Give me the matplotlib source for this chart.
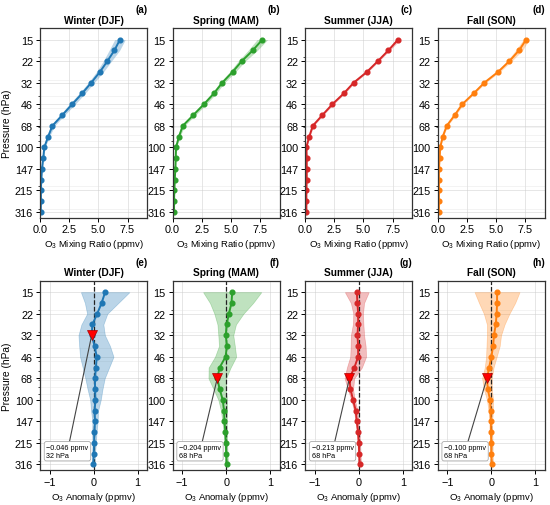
import numpy as np
import matplotlib
matplotlib.use('Agg')
import matplotlib.pyplot as plt
from matplotlib.ticker import NullFormatter

plt.rcParams['font.family'] = ['Liberation Sans', 'DejaVu Sans']
plt.rcParams['mathtext.default'] = 'regular'

# pressure levels (hPa), top to bottom
levels = [14.68, 17.78, 21.54, 26.10, 31.62, 38.31, 46.42, 56.23, 68.13,
          82.54, 100.0, 121.15, 146.78, 177.83, 215.44, 261.02, 316.23]
tick_vals = [14.68, 21.54, 31.62, 46.42, 68.13, 100.0, 146.78, 215.44, 316.23]
tick_labels = ['15', '22', '32', '46', '68', '100', '147', '215', '316']

seasons = ['Winter (DJF)', 'Spring (MAM)', 'Summer (JJA)', 'Fall (SON)']
colors = ['#1f77b4', '#2ca02c', '#d62728', '#ff7f0e']

# O3 mixing ratio (ppmv) and spread
djf = [6.85, 6.37, 5.77, 5.13, 4.39, 3.61, 2.76, 1.92, 1.07, 0.70, 0.37, 0.28, 0.17, 0.11, 0.08, 0.08, 0.06]
mam = [7.69, 6.87, 5.93, 5.14, 4.26, 3.54, 2.69, 1.79, 0.88, 0.55, 0.30, 0.27, 0.24, 0.19, 0.15, 0.13, 0.13]
jja = [7.96, 7.13, 6.23, 5.29, 4.16, 3.31, 2.34, 1.49, 0.66, 0.36, 0.11, 0.14, 0.14, 0.14, 0.11, 0.11, 0.11]
son = [7.58, 6.97, 6.14, 5.17, 4.00, 3.08, 2.11, 1.47, 0.78, 0.44, 0.22, 0.17, 0.11, 0.11, 0.11, 0.11, 0.11]
djf_sd = [0.45, 0.45, 0.35, 0.3, 0.25, 0.25, 0.25, 0.2, 0.18, 0.12, 0.06, 0.05, 0.04, 0.03, 0.03, 0.03, 0.03]
mam_sd = [0.45, 0.4, 0.3, 0.25, 0.2, 0.2, 0.2, 0.18, 0.15, 0.1, 0.05, 0.04, 0.04, 0.03, 0.03, 0.03, 0.03]
jja_sd = [0.2, 0.12, 0.1, 0.1, 0.1, 0.1, 0.1, 0.08, 0.08, 0.05, 0.03, 0.02, 0.02, 0.02, 0.02, 0.02, 0.02]
son_sd = [0.25, 0.3, 0.2, 0.15, 0.12, 0.1, 0.1, 0.1, 0.08, 0.05, 0.04, 0.03, 0.02, 0.02, 0.02, 0.02, 0.02]

# O3 anomaly (ppmv) and spread
djf_anom = [0.26, 0.18, 0.08, -0.03, -0.046, 0.02, 0.07, 0.05, 0.03, 0.03, 0.04, 0.02, 0.03, 0.015, 0.01, 0.0, -0.01]
mam_anom = [0.135, 0.12, 0.06, 0.01, -0.01, 0.015, -0.015, -0.15, -0.204, -0.15, -0.08, -0.05, -0.04, -0.02, -0.01, 0.0, 0.01]
jja_anom = [-0.045, -0.03, -0.015, -0.015, -0.03, -0.015, -0.015, -0.1, -0.213, -0.19, -0.13, -0.07, -0.045, -0.015, 0.0, 0.01, 0.02]
son_anom = [0.13, 0.13, 0.12, 0.1, 0.06, 0.04, 0.0, -0.05, -0.1, -0.08, -0.03, -0.015, -0.01, -0.01, 0.0, 0.0, 0.01]
djf_anom_sd = [0.55, 0.38, 0.23, 0.25, 0.3, 0.35, 0.38, 0.3, 0.22, 0.17, 0.12, 0.08, 0.06, 0.05, 0.04, 0.03, 0.03]
mam_anom_sd = [0.66, 0.49, 0.33, 0.21, 0.17, 0.18, 0.24, 0.25, 0.2, 0.14, 0.1, 0.07, 0.05, 0.04, 0.03, 0.03, 0.03]
jja_anom_sd = [0.27, 0.15, 0.11, 0.12, 0.15, 0.17, 0.18, 0.17, 0.11, 0.06, 0.04, 0.04, 0.03, 0.03, 0.03, 0.03, 0.03]
son_anom_sd = [0.51, 0.41, 0.29, 0.2, 0.16, 0.15, 0.12, 0.1, 0.11, 0.09, 0.07, 0.05, 0.03, 0.03, 0.03, 0.03, 0.03]

means = [djf, mam, jja, son]
sds = [djf_sd, mam_sd, jja_sd, son_sd]
anoms = [djf_anom, mam_anom, jja_anom, son_anom]
anom_sds = [djf_anom_sd, mam_anom_sd, jja_anom_sd, son_anom_sd]
letters = ['(a)', '(b)', '(c)', '(d)', '(e)', '(f)', '(g)', '(h)']

p = np.array(levels)

fig, axes = plt.subplots(2, 4, figsize=(5.5, 5.06), dpi=100)
fig.subplots_adjust(left=0.0727, right=0.991, top=0.942, bottom=0.069,
                    wspace=0.234, hspace=0.335)


def style_axis(ax, title, letter):
    ax.set_yscale('log')
    ax.set_ylim(350, 12)
    ax.set_yticks(tick_vals)
    ax.set_yticklabels(tick_labels)
    ax.yaxis.set_minor_formatter(NullFormatter())
    ax.tick_params(axis='both', which='major', labelsize=7.8, length=3, width=0.7, pad=2)
    ax.tick_params(axis='y', which='minor', length=1.8, width=0.5)
    ax.grid(True, which='major', color='#cccccc', lw=0.5, alpha=0.7)
    ax.grid(True, which='minor', axis='y', color='#dddddd', lw=0.4, alpha=0.6)
    ax.set_axisbelow(True)
    for s in ax.spines.values():
        s.set_linewidth(0.9)
        s.set_color('#333333')
    ax.set_title(title, fontsize=7.3, fontweight='bold', pad=4)
    ax.text(1.0, 1.10, letter, transform=ax.transAxes, ha='right', va='center',
            fontsize=7, fontweight='bold')


for i in range(4):
    ax = axes[0, i]
    m = np.array(means[i])
    s = np.array(sds[i])
    ax.fill_betweenx(p, m - s, m + s, color=colors[i], alpha=0.3, lw=0)
    ax.plot(m, p, '-o', color=colors[i], lw=1.4, ms=3.4)
    ax.set_xlim(0, 9.2)
    ax.set_xticks([0, 2.5, 5.0, 7.5])
    ax.set_xticklabels(['0.0', '2.5', '5.0', '7.5'])
    style_axis(ax, seasons[i], letters[i])
    ax.set_xlabel('O$_3$ Mixing Ratio (ppmv)', fontsize=6.8, labelpad=2)
    if i == 0:
        ax.set_ylabel('Pressure (hPa)', fontsize=7.3, labelpad=2)

for i in range(4):
    ax = axes[1, i]
    a = np.array(anoms[i])
    s = np.array(anom_sds[i])
    ax.fill_betweenx(p, a - s, a + s, color=colors[i], alpha=0.3, lw=0.5)
    ax.axvline(0, color='#222222', ls='--', lw=0.9, zorder=1)
    ax.plot(a, p, '-o', color=colors[i], lw=1.4, ms=3.4, zorder=3)
    k = int(np.argmin(a))
    ax.plot(a[k], p[k], 'v', color='red', ms=6.5, mec='#aa0000', mew=0.5, zorder=4)
    label = f"{a[k]:.3f}".replace('-', '\u2212') + f" ppmv\n{p[k]:.0f} hPa"
    ax.annotate(label, xy=(a[k], p[k]), xytext=(0.06, 0.06), textcoords='axes fraction',
                fontsize=5.2, ha='left', va='bottom',
                bbox=dict(boxstyle='round,pad=0.3', fc='white', ec='#aaaaaa', lw=0.6),
                arrowprops=dict(arrowstyle='-', color='#444444', lw=0.8,
                                shrinkA=0, shrinkB=2),
                zorder=5)
    ax.set_xlim(-1.22, 1.22)
    ax.set_xticks([-1, 0, 1])
    style_axis(ax, seasons[i], letters[i + 4])
    ax.set_xlabel('O$_3$ Anomaly (ppmv)', fontsize=6.8, labelpad=2)
    if i == 0:
        ax.set_ylabel('Pressure (hPa)', fontsize=7.3, labelpad=2)

fig.savefig('out.png', dpi=100)
